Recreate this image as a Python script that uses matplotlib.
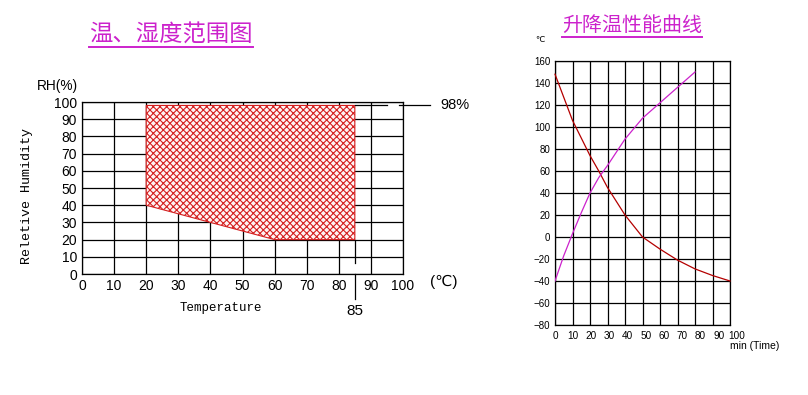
import matplotlib
matplotlib.use('Agg')
import matplotlib.pyplot as plt
import matplotlib.transforms as mtransforms
from matplotlib.lines import Line2D

# %%
# Data

left_title = '温、湿度范围图'
right_title = '升降温性能曲线'

# operating range of the chamber: temperature (°C) vs relative humidity (%)
range_temp = [20, 85, 85, 60, 20]
range_rh = [98, 98, 20, 20, 40]
rh_max = 98
temp_max = 85

temp_ticks = list(range(0, 101, 10))
rh_ticks = list(range(0, 101, 10))

# heating / cooling performance curves: time (min) vs temperature (°C)
cool_time = [0, 10, 20, 25, 30, 40, 50, 60, 70, 80, 90, 100]
cool_temp = [148, 106, 74, 60, 45, 20, 0, -11, -21, -29, -35, -40]
heat_time = [0, 5, 10, 15, 20, 25, 30, 40, 50, 60, 70, 80]
heat_temp = [-40, -17, 3, 22, 40, 54, 65, 89, 108, 122, 136, 150]

time_ticks = list(range(0, 101, 10))
curve_ticks = list(range(-80, 161, 20))

# %%

W, H = 808, 395
plt.rcParams['font.family'] = ['Liberation Sans', 'DejaVu Sans']
plt.rcParams['hatch.linewidth'] = 0.8

fig = plt.figure(figsize=(W / 100, H / 100), dpi=100)


def px_axes(x0, y0, x1, y1):
    return fig.add_axes([x0 / W, 1 - y1 / H, (x1 - x0) / W, (y1 - y0) / H])


magenta = '#cc22cc'
red_hatch = '#d42020'
grid_kw = dict(color='black', linewidth=0.9)
cjk = ['Noto Sans CJK SC', 'DejaVu Sans']

# ---- left chart: humidity range ----
ax = px_axes(82, 102, 403, 274)
ax.set_xlim(0, 100)
ax.set_ylim(0, 100)
ax.set_xticks(temp_ticks)
ax.set_yticks(rh_ticks)
ax.tick_params(length=0, labelsize=10, pad=3.5)
ax.grid(True, **grid_kw)
ax.set_axisbelow(True)
for s in ax.spines.values():
    s.set_linewidth(0.9)

ax.fill(range_temp, range_rh, facecolor='#fff4f4', edgecolor=red_hatch,
        hatch='xxxxx', linewidth=0.8, zorder=3)

# 98% and 85 marker lines
ax.plot([temp_max, 95], [rh_max, rh_max], color='black', lw=0.9,
        clip_on=False, zorder=4)
ax.plot([98.6, 108.5], [rh_max, rh_max], color='black', lw=0.9,
        clip_on=False, zorder=4)
ax.plot([temp_max, temp_max], [20, 6.5], color='black', lw=0.9, zorder=4)
ax.plot([temp_max, temp_max], [0, -14.5], color='black', lw=0.9,
        clip_on=False, zorder=4)

ax.text(111.5, rh_max, f'{rh_max}%', fontsize=10.5, ha='left', va='center')
ax.text(temp_max, -21.5, str(temp_max), fontsize=11, ha='center',
        va='center')
ax.text(112.8, -4.7, '(℃)', fontsize=11, ha='center', va='center')
ax.text(-7.6, 109.3, 'RH(%)', fontsize=9.8, ha='center', va='center')
ax.text(43.3, -19.8, 'Temperature', family='Liberation Mono', fontsize=9,
        ha='center', va='center')
ax.text(-17.1, 45.3, 'Reletive Humidity', family='Liberation Mono',
        fontsize=9.6, rotation=90, ha='center', va='center')

t1 = fig.text(89 / W, 1 - 34 / H, left_title, family=cjk, fontsize=16.8,
              color=magenta, ha='left', va='center')

# ---- right chart: heating / cooling curves ----
bx = px_axes(555, 61, 730, 325)
bx.set_xlim(0, 100)
bx.set_ylim(-80, 160)
bx.set_xticks(time_ticks)
bx.set_yticks(curve_ticks)
bx.tick_params(axis='y', length=0, labelsize=7, pad=3.5)
bx.tick_params(axis='x', length=0, labelsize=7.2, pad=4.5)
bx.grid(True, **grid_kw)
bx.set_axisbelow(True)
for s in bx.spines.values():
    s.set_linewidth(0.9)

bx.plot(cool_time, cool_temp, color='#b40000', lw=0.9, zorder=3,
        clip_on=False)
bx.plot(heat_time, heat_temp, color=magenta, lw=0.9, zorder=3)

for i, lab in enumerate(bx.get_xticklabels()):
    dx = (i * 0.7) / 100
    lab.set_transform(lab.get_transform()
                      + mtransforms.ScaledTranslation(dx, 0,
                                                      fig.dpi_scale_trans))

bx.text(100, -99.4, 'min (Time)', fontsize=7.5, ha='left', va='center')
bx.text(-8.7, 178.4, '℃', fontsize=6, ha='center', va='center')

t2 = fig.text(562 / W, 1 - 25 / H, right_title, family=cjk, fontsize=14.4,
              color=magenta, ha='left', va='center')

# underline the two titles
fig.canvas.draw()
renderer = fig.canvas.get_renderer()
for t in (t1, t2):
    bb = t.get_window_extent(renderer)
    y = bb.y0 - 1
    fig.add_artist(Line2D([bb.x0, bb.x1], [y, y], color=magenta, lw=1.4,
                          transform=None))

fig.savefig('out.png', dpi=100)
